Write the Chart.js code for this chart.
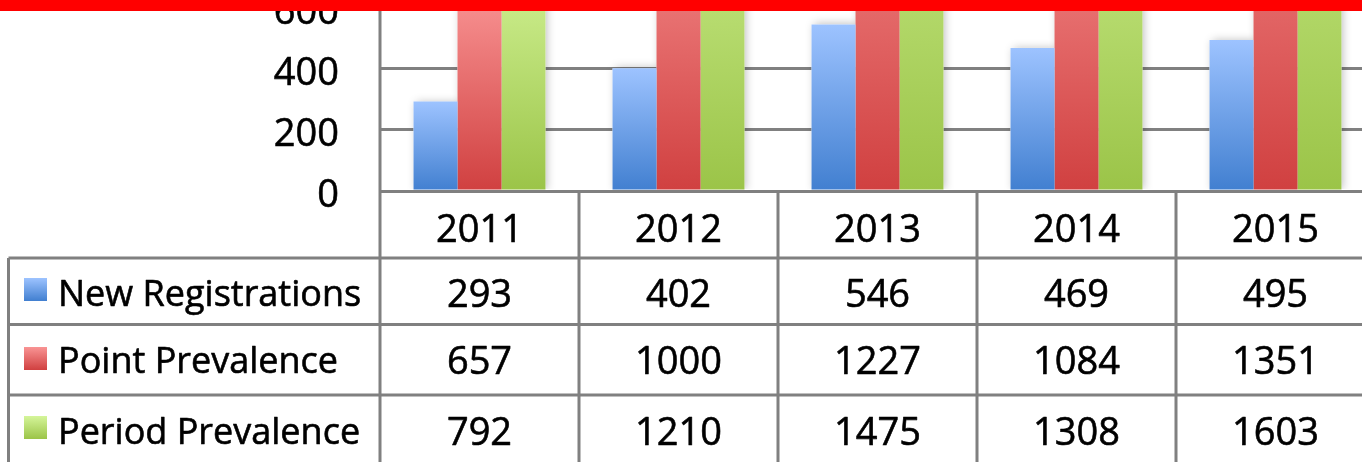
<!DOCTYPE html>
<html><head><meta charset="utf-8">
<script src="https://cdn.jsdelivr.net/npm/chart.js@4/dist/chart.umd.min.js"></script>
<style>html,body{margin:0;padding:0;overflow:hidden;background:#fff;width:1362px;height:462px}canvas{display:block}</style>
</head><body><canvas id="c" width="1380" height="462"></canvas>
<script>
const categories = ['2011', '2012', '2013', '2014', '2015'];
const seriesNames = ['New Registrations', 'Point Prevalence', 'Period Prevalence'];
const newRegistrations = [293, 402, 546, 469, 495];
const pointPrevalence = [657, 1000, 1227, 1084, 1351];
const periodPrevalence = [792, 1210, 1475, 1308, 1603];
const yTickValues = [0, 200, 400, 600];

const seriesValues = [newRegistrations, pointPrevalence, periodPrevalence];
const gradStops = [['#9DC3FF', '#417FD0'], ['#F99494', '#D04040'], ['#D5F59A', '#9BC448']];
const FONT = '"Open Sans", sans-serif';
const LINE = '#808080';

function barGradient(i) {
  return (c) => {
    const chart = c.chart;
    if (!chart.chartArea || c.raw === undefined) return gradStops[i][1];
    const y = chart.scales.y;
    const top = y.getPixelForValue(c.raw), base = y.getPixelForValue(0);
    const g = chart.ctx.createLinearGradient(0, top, 0, base);
    g.addColorStop(0, gradStops[i][0]);
    g.addColorStop(1, gradStops[i][1]);
    return g;
  };
}

const shadowPlugin = {
  id: 'shadow',
  beforeDatasetsDraw(chart) {
    const {ctx, chartArea: ca} = chart;
    ctx.save();
    ctx.beginPath(); ctx.rect(ca.left + 2, ca.top, ca.right - ca.left, ca.bottom - ca.top - 2); ctx.clip();
    ctx.shadowColor = 'rgba(0,0,0,0.28)';
    ctx.shadowBlur = 9;
    ctx.shadowOffsetX = 2;
    ctx.fillStyle = '#fff';
    chart.data.datasets.forEach((d, di) => {
      chart.getDatasetMeta(di).data.forEach(el => {
        const {x, y, base, width} = el.getProps(['x', 'y', 'base', 'width'], true);
        ctx.fillRect(x - width / 2, Math.min(y, base), width, Math.abs(base - y));
      });
    });
    ctx.restore();
  }
};

function strokeFill(ctx, t, x, y) {
  ctx.strokeText(t, x, y);
  ctx.fillText(t, x, y);
}

const tablePlugin = {
  id: 'table',
  afterDraw(chart) {
    const {ctx, chartArea: ca, scales: {x}} = chart;
    const rowLines = [258, 324.5, 395];
    const bottom = 480;
    ctx.save();
    ctx.strokeStyle = LINE; ctx.lineWidth = 3;
    const line = (x1, y1, x2, y2) => { ctx.beginPath(); ctx.moveTo(x1, y1); ctx.lineTo(x2, y2); ctx.stroke(); };
    rowLines.forEach(y => line(8.5, y, ca.right, y));
    line(8.5, rowLines[0], 8.5, bottom);
    line(ca.left, 0, ca.left, bottom);
    for (let i = 1; i < categories.length; i++) {
      const bx = (x.getPixelForValue(i - 1) + x.getPixelForValue(i)) / 2;
      line(bx, ca.bottom, bx, bottom);
    }
    ctx.fillStyle = '#000';
    ctx.strokeStyle = '#000';
    ctx.lineWidth = 0.6;
    ctx.lineJoin = 'round';
    ctx.font = '38px ' + FONT;
    ctx.textAlign = 'center';
    ctx.textBaseline = 'alphabetic';
    const baselines = [307, 374, 445];
    categories.forEach((c, i) => {
      const cx = x.getPixelForValue(i);
      strokeFill(ctx, c, cx, 242);
      seriesValues.forEach((vals, si) => strokeFill(ctx, String(vals[i]), cx, baselines[si]));
    });
    ctx.textAlign = 'left';
    ctx.font = '36px ' + FONT;
    const swTops = [278, 347, 416];
    seriesNames.forEach((n, si) => {
      const g = ctx.createLinearGradient(0, swTops[si], 0, swTops[si] + 23);
      g.addColorStop(0, gradStops[si][0]); g.addColorStop(1, gradStops[si][1]);
      ctx.fillStyle = g;
      ctx.fillRect(24, swTops[si], 23, 23);
      ctx.fillStyle = '#000';
      strokeFill(ctx, n, 58, baselines[si] - 1);
    });
    ctx.fillStyle = '#FF0000';
    ctx.fillRect(0, 0, chart.width, 11);
    ctx.restore();
  }
};

function draw() {
  new Chart(document.getElementById('c'), {
    type: 'bar',
    data: {
      labels: categories,
      datasets: seriesNames.map((n, i) => ({
        label: n,
        data: seriesValues[i],
        backgroundColor: barGradient(i),
        borderWidth: 0,
        categoryPercentage: 0.663,
        barPercentage: 1.0
      }))
    },
    options: {
      responsive: false,
      animation: false,
      devicePixelRatio: 1,
      layout: {padding: {left: 0, right: 5, top: 0, bottom: 271}},
      plugins: {legend: {display: false}, tooltip: {enabled: false}, title: {display: false}},
      scales: {
        x: {display: false},
        y: {
          min: 0, max: 626,
          afterBuildTicks: s => { s.ticks = yTickValues.map(v => ({value: v})); },
          afterFit: s => { s.width = 380; s.paddingTop = 0; s.paddingBottom = 0; },
          border: {display: false},
          grid: {color: LINE, lineWidth: 3, drawTicks: false},
          ticks: {color: '#000', font: {family: FONT, size: 38}, padding: 41, labelOffset: 5,
                  textStrokeColor: '#000', textStrokeWidth: 0.6}
        }
      }
    },
    plugins: [shadowPlugin, tablePlugin]
  });
}
if (document.fonts && document.fonts.load) {
  document.fonts.load('38px "Open Sans"').then(draw, draw);
} else draw();
</script>
</body></html>
